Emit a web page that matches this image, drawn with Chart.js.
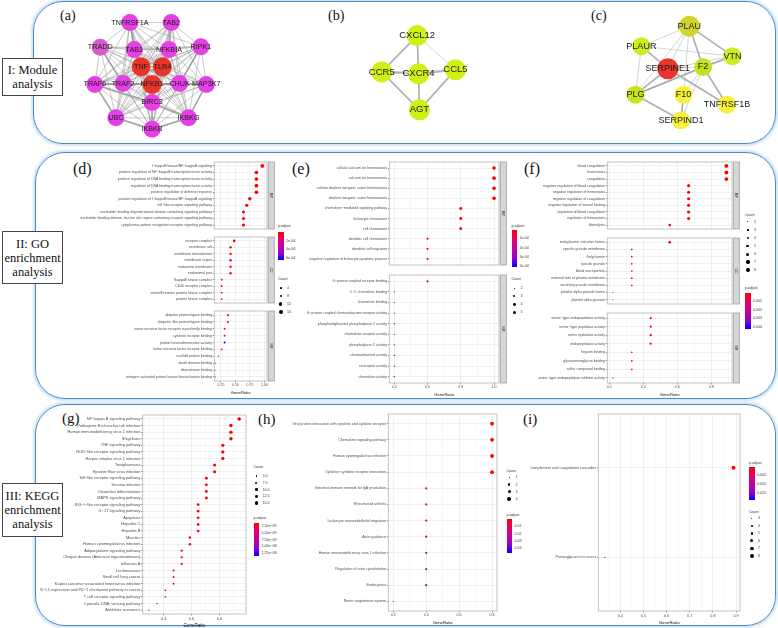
<!DOCTYPE html>
<html>
<head>
<meta charset="utf-8">
<script src="https://cdn.jsdelivr.net/npm/chart.js@4.4.0/dist/chart.umd.min.js"></script>
<style>
  body { margin: 0; background: #fff; }
  #fig { position: relative; width: 778px; height: 628px; overflow: hidden; background: #fff;
         font-family: "Liberation Sans", Arial, sans-serif; }
  .row { position: absolute; border: 1.5px solid #4a89c6; border-radius: 30px; box-sizing: border-box;
         box-shadow: 0 0 2px 1.5px rgba(170,205,238,0.55); }
  .sec { position: absolute; left: 2px; width: 61px; border: 1px solid #444; background: #fff; box-sizing: border-box;
         font-family: "Liberation Serif", "Times New Roman", serif; font-size: 12.5px; line-height: 14px;
         text-align: center; display: flex; flex-direction: column; justify-content: center; color: #111; }
  .tag { position: absolute; font-family: "Liberation Serif", "Times New Roman", serif; color: #111; line-height: 1; }
  canvas { position: absolute; }
  .lg { position: absolute; font-size: 3.6px; line-height: 4px; color: #333; white-space: nowrap; }
  .dot { position: absolute; background: #000; border-radius: 50%; }
  .bar { position: absolute; width: 5.5px;
         background: linear-gradient(to bottom, #ff0000, #e3006b, #c3009c, #9800cd, #0000ff); }
</style>
</head>
<body>
<div id="fig">
  <div class="row" style="left:33px;top:1px;width:743px;height:143px"></div>
  <div class="row" style="left:35px;top:152px;width:741px;height:247px"></div>
  <div class="row" style="left:35px;top:404px;width:741px;height:222px"></div>

  <div class="sec" style="top:58px;height:38px">I: Module<br>analysis</div>
  <div class="sec" style="top:231px;height:53px">II: GO<br>enrichment<br>analysis</div>
  <div class="sec" style="top:483px;height:54px">III: KEGG<br>enrichment<br>analysis</div>

  <div class="tag" style="left:60px;top:9px;font-size:14px">(a)</div>
  <div class="tag" style="left:328px;top:9px;font-size:14px">(b)</div>
  <div class="tag" style="left:591px;top:9px;font-size:14px">(c)</div>
  <div class="tag" style="left:73px;top:161px;font-size:16px">(d)</div>
  <div class="tag" style="left:292px;top:161px;font-size:16px">(e)</div>
  <div class="tag" style="left:524px;top:161px;font-size:16px">(f)</div>
  <div class="tag" style="left:62px;top:411px;font-size:15px">(g)</div>
  <div class="tag" style="left:258px;top:412px;font-size:15px">(h)</div>
  <div class="tag" style="left:523px;top:412px;font-size:15px">(i)</div>
</div>

<script>
/* ================= NETWORKS ================= */
// (a) NF-kB module
const aGenes  = ['TNFRSF1A','TAB2','TRADD','TAB1','NFKBIA','RIPK1','TNF','TLR4','TRAF6','TRAF2','NFKB1','CHUK','MAP3K7','BIRC3','UBC','IKBKG','IKBKB'];
const aX      = [56.7,103.3,23.3,61.7,100.7,136.7,69.3,93.3,17.3,49,81.7,112.7,142.7,81.7,41,122.7,81.7];
const aY      = [15,15,43.3,46,46,42.7,65.7,65.7,86,85,86,85,86,106.7,124.3,124.3,137.5];
const aDegree = [14,14,12,15,15,14,16,16,14,15,16,15,14,15,14,14,15];
const aLinks = {
  TNFRSF1A: 'TAB2 TRADD TAB1 NFKBIA RIPK1 TNF TLR4 TRAF6 TRAF2 NFKB1 CHUK BIRC3 UBC IKBKG IKBKB',
  TAB2:     'TAB1 NFKBIA RIPK1 TNF TLR4 TRAF6 TRAF2 NFKB1 CHUK MAP3K7 BIRC3 UBC IKBKG IKBKB',
  TRADD:    'TAB1 NFKBIA RIPK1 TNF TLR4 TRAF6 TRAF2 NFKB1 CHUK BIRC3 UBC IKBKB',
  TAB1:     'NFKBIA RIPK1 TNF TLR4 TRAF6 TRAF2 NFKB1 CHUK MAP3K7 BIRC3 UBC IKBKG IKBKB',
  NFKBIA:   'RIPK1 TNF TLR4 TRAF6 TRAF2 NFKB1 CHUK MAP3K7 BIRC3 UBC IKBKG IKBKB',
  RIPK1:    'TNF TLR4 TRAF6 TRAF2 NFKB1 CHUK MAP3K7 BIRC3 UBC IKBKG IKBKB',
  TNF:      'TLR4 TRAF6 TRAF2 NFKB1 CHUK MAP3K7 BIRC3 UBC IKBKG IKBKB',
  TLR4:     'TRAF6 TRAF2 NFKB1 CHUK MAP3K7 BIRC3 UBC IKBKG IKBKB',
  TRAF6:    'TRAF2 NFKB1 CHUK MAP3K7 BIRC3 UBC IKBKG IKBKB',
  TRAF2:    'NFKB1 CHUK MAP3K7 BIRC3 UBC IKBKG IKBKB',
  NFKB1:    'CHUK MAP3K7 BIRC3 UBC IKBKG IKBKB',
  CHUK:     'MAP3K7 BIRC3 UBC IKBKG IKBKB',
  MAP3K7:   'BIRC3 UBC IKBKG IKBKB',
  BIRC3:    'UBC IKBKG IKBKB',
  UBC:      'IKBKG IKBKB',
  IKBKG:    'IKBKB'
};
const aStrong = ['TNF-TLR4','TNF-NFKB1','TLR4-NFKB1','TNF-TAB1','TLR4-NFKBIA','TRAF2-NFKB1','NFKB1-CHUK','TRAF6-TRAF2',
                 'CHUK-MAP3K7','NFKB1-BIRC3','TRAF6-UBC','MAP3K7-IKBKG','UBC-IKBKB','IKBKG-IKBKB','TRADD-TRAF2',
                 'RIPK1-CHUK','TNFRSF1A-TAB1','TAB2-NFKBIA','TRAF6-BIRC3','BIRC3-IKBKG'];

// (b) chemokine module
const bGenes  = ['CXCL12','CCR5','CXCR4','CCL5','AGT'];
const bX      = [66.7,25,68.3,111.7,69.3];
const bY      = [29.3,71.7,74,69.3,116];
const bStrong = ['CXCL12-CXCR4','CCR5-CXCR4','CXCR4-CCL5','CXCR4-AGT','CCR5-AGT','CCL5-AGT','CXCL12-CCR5'];
const bWeak   = ['CXCL12-CCL5','CCR5-CCL5'];

// (c) coagulation module
const cGenes  = ['PLAU','PLAUR','VTN','SERPINE1','F2','PLG','F10','TNFRSF1B','SERPIND1'];
const cX      = [89.3,35,138.3,65,105,28.3,82.7,132,80];
const cY      = [18.3,41.7,53.3,68,66,98.3,98.3,110,128.3];
const cDegree = [7,5,5,8,6,6,3,3,3];
const cStrong = ['PLAU-VTN','PLAU-F2','PLAUR-SERPINE1','SERPINE1-PLG','PLG-SERPIND1','F10-SERPIND1','F2-VTN',
                 'F2-TNFRSF1B','PLG-F2','SERPINE1-TNFRSF1B'];
const cWeak   = ['PLAU-PLAUR','PLAU-SERPINE1','PLAU-PLG','PLAU-F10','PLAUR-VTN','PLAUR-PLG','SERPINE1-VTN',
                 'SERPINE1-F2','F2-F10','F2-SERPIND1','PLG-VTN'];

/* ================= GO (d) ================= */
const dBPTerms = ['I−kappaB kinase/NF−kappaB signaling','positive regulation of NF−kappaB transcription factor activity',
  'positive regulation of DNA binding transcription factor activity','regulation of DNA binding transcription factor activity',
  'positive regulation of defense response','positive regulation of I−kappaB kinase/NF−kappaB signaling',
  'toll−like receptor signaling pathway','nucleotide−binding oligomerization domain containing signaling pathway',
  'nucleotide−binding domain, leucine rich repeat containing receptor signaling pathway',
  'cytoplasmic pattern recognition receptor signaling pathway'];
const dBPRatio = [0.965,0.862,0.862,0.862,0.862,0.748,0.696,0.639,0.639,0.639];
const dBPCount = [16,15,15,15,15,13,12,11,11,11];
const dBPPadj  = [2e-7,5e-7,6e-7,1e-6,2e-6,3e-6,4e-6,6e-6,6e-6,8e-6];

const dCCTerms = ['receptor complex','membrane raft','membrane microdomain','membrane region','endosome membrane',
  'endosomal part','IkappaB kinase complex','CD40 receptor complex','serine/threonine protein kinase complex','protein kinase complex'];
const dCCRatio = [0.478,0.416,0.416,0.416,0.416,0.416,0.262,0.262,0.262,0.262];
const dCCCount = [8,7,7,7,7,7,4,4,4,4];
const dCCPadj  = [2e-5,4e-5,4e-5,4e-5,6e-5,6e-5,5e-5,5e-5,8e-5,1e-4];

const dMFTerms = ['ubiquitin protein ligase binding','ubiquitin−like protein ligase binding',
  'tumor necrosis factor receptor superfamily binding','cytokine receptor binding','protein heterodimerization activity',
  'tumor necrosis factor receptor binding','scaffold protein binding','death domain binding','thioesterase binding',
  'mitogen−activated protein kinase kinase kinase binding'];
const dMFRatio = [0.37,0.37,0.313,0.313,0.313,0.262,0.204,0.152,0.152,0.152];
const dMFCount = [6,6,5,5,5,4,3,2,2,2];
const dMFPadj  = [1e-4,1.1e-4,6e-5,1e-4,6.4e-4,5e-5,1.5e-4,3e-4,2.5e-4,3e-4];

const dXTicks = [0.25,0.5,0.75,1.0];
const dXLabels = ['0.25','0.50','0.75','1.00'];
const dCountLegend = [4,8,12,16];
const dPadjTicks = [2e-4,4e-4,6e-4];
const dPadjLabels = ['2e-04','4e-04','6e-04'];

/* ================= GO (e) ================= */
const eBPTerms = ['cellular calcium ion homeostasis','calcium ion homeostasis','cellular divalent inorganic cation homeostasis',
  'divalent inorganic cation homeostasis','chemokine−mediated signaling pathway','leukocyte chemotaxis','cell chemotaxis',
  'dendritic cell chemotaxis','dendritic cell migration','negative regulation of leukocyte apoptotic process'];
const eBPRatio = [1,1,1,1,0.8,0.8,0.8,0.6,0.6,0.6];
const eBPCount = [5,5,5,5,4,4,4,3,3,3];
const eBPPadj  = [1e-5,1e-5,1.2e-5,1.2e-5,1.5e-5,1.6e-5,2e-5,3e-5,3e-5,3.5e-5];

const eMFTerms = ['G−protein coupled receptor binding','C−C chemokine binding','chemokine binding',
  'G−protein coupled chemoattractant receptor activity','phosphatidylinositol phospholipase C activity',
  'chemokine receptor activity','phospholipase C activity','chemoattractant activity','coreceptor activity','chemokine activity'];
const eMFRatio = [0.6,0.4,0.4,0.4,0.4,0.4,0.4,0.4,0.4,0.4];
const eMFCount = [3,2,2,2,2,2,2,2,2,2];
const eMFPadj  = [2e-4,3e-4,3e-4,3e-4,3.5e-4,3.5e-4,4e-4,4e-4,4.1e-4,4.1e-4];

const eXTicks = [0.4,0.6,0.8,1.0];
const eXLabels = ['0.4','0.6','0.8','1.0'];
const eCountLegend = [2,3,4,5];
const ePadjTicks = [1e-4,2e-4,3e-4,4e-4];
const ePadjLabels = ['1e-04','2e-04','3e-04','4e-04'];

/* ================= GO (f) ================= */
const fBPTerms = ['blood coagulation','hemostasis','coagulation','negative regulation of blood coagulation',
  'negative regulation of hemostasis','negative regulation of coagulation','negative regulation of wound healing',
  'regulation of blood coagulation','regulation of hemostasis','fibrinolysis'];
const fBPRatio = [0.889,0.889,0.889,0.667,0.667,0.667,0.667,0.667,0.667,0.556];
const fBPCount = [8,8,8,6,6,6,6,6,6,5];
const fBPPadj  = [1e-5,1e-5,1e-5,5e-5,5e-5,5e-5,6e-5,8e-5,8e-5,5e-4];

const fCCTerms = ['endoplasmic reticulum lumen','specific granule membrane','Golgi lumen','specific granule',
  'blood microparticle','external side of plasma membrane','secretory granule membrane',
  'platelet alpha granule lumen','platelet alpha granule'];
const fCCRatio = [0.556,0.333,0.333,0.333,0.333,0.333,0.333,0.222,0.222];
const fCCCount = [5,3,3,3,3,3,3,2,2];
const fCCPadj  = [3e-4,1e-3,1e-3,1.2e-3,1.2e-3,1.3e-3,1.5e-3,3e-3,3.5e-3];

const fMFTerms = ['serine−type endopeptidase activity','serine−type peptidase activity','serine hydrolase activity',
  'endopeptidase activity','heparin binding','glycosaminoglycan binding','sulfur compound binding',
  'serine−type endopeptidase inhibitor activity'];
const fMFRatio = [0.444,0.444,0.444,0.444,0.333,0.333,0.333,0.222];
const fMFCount = [4,4,4,4,3,3,3,2];
const fMFPadj  = [1e-4,1e-4,1.2e-4,2e-4,5e-4,6e-4,8e-4,4.3e-3];

const fXTicks = [0.2,0.4,0.6,0.8];
const fXLabels = ['0.2','0.4','0.6','0.8'];
const fCountLegend = [2,3,4,5,6,7,8];
const fPadjTicks = [0.001,0.002,0.003,0.004];
const fPadjLabels = ['0.001','0.002','0.003','0.004'];

/* ================= KEGG (g) ================= */
const gTerms = ['NF−kappa B signaling pathway','Pathogenic Escherichia coli infection','Human immunodeficiency virus 1 infection',
  'Shigellosis','TNF signaling pathway','NOD−like receptor signaling pathway','Herpes simplex virus 1 infection',
  'Toxoplasmosis','Epstein−Barr virus infection','Toll−like receptor signaling pathway','Yersinia infection',
  'Osteoclast differentiation','MAPK signaling pathway','RIG−I−like receptor signaling pathway','IL−17 signaling pathway',
  'Apoptosis','Hepatitis C','Hepatitis B','Measles','Human cytomegalovirus infection','Adipocytokine signaling pathway',
  'Chagas disease (American trypanosomiasis)','Influenza A','Leishmaniasis','Small cell lung cancer',
  'Kaposi sarcoma−associated herpesvirus infection','PD−L1 expression and PD−1 checkpoint pathway in cancer',
  'T cell receptor signaling pathway','Cytosolic DNA−sensing pathway','Antifolate resistance'];
const gRatio = [0.941,0.882,0.882,0.882,0.824,0.824,0.824,0.765,0.765,0.706,0.706,0.706,0.706,0.647,0.647,
  0.647,0.647,0.647,0.588,0.588,0.529,0.529,0.529,0.471,0.471,0.471,0.412,0.412,0.353,0.294];
const gCount = [16,15,15,15,14,14,14,13,13,12,12,12,12,11,11,11,11,11,10,10,9,9,9,8,8,8,7,7,6,5];
const gPadj  = [1.5e-9,1.6e-9,1.6e-9,1.7e-9,1.8e-9,1.8e-9,1.9e-9,2e-9,2e-9,2.1e-9,2.2e-9,2.2e-9,2.3e-9,2.4e-9,
  2.4e-9,2.5e-9,2.5e-9,2.6e-9,2.8e-9,3e-9,4e-9,4.2e-9,4.4e-9,5.5e-9,5.6e-9,5.8e-9,4.8e-9,5e-9,8e-9,1.35e-8];
const gXTicks = [0.4,0.6,0.8];
const gXLabels = ['0.4','0.6','0.8'];
const gCountLegend = [5,7.5,10,12.5,15];
const gCountLabels = ['5.0','7.5','10.0','12.5','15.0'];
const gPadjTicks = [2.5e-9,5e-9,7.5e-9,1e-8,1.25e-8];
const gPadjLabels = ['2.50e−09','5.00e−09','7.50e−09','1.00e−08','1.25e−08'];

/* ================= KEGG (h) ================= */
const hTerms = ['Viral protein interaction with cytokine and cytokine receptor','Chemokine signaling pathway',
  'Human cytomegalovirus infection','Cytokine−cytokine receptor interaction','Intestinal immune network for IgA production',
  'Rheumatoid arthritis','Leukocyte transendothelial migration','Axon guidance','Human immunodeficiency virus 1 infection',
  'Regulation of actin cytoskeleton','Endocytosis','Renin−angiotensin system'];
const hRatio = [0.8,0.8,0.8,0.8,0.4,0.4,0.4,0.4,0.4,0.4,0.4,0.2];
const hCount = [4,4,4,4,2,2,2,2,2,2,2,1];
const hPadj  = [5e-4,5e-4,5e-4,1e-3,0.015,0.015,0.018,0.02,0.025,0.028,0.03,0.046];
const hXTicks = [0.2,0.4,0.6,0.8];
const hXLabels = ['0.2','0.4','0.6','0.8'];
const hCountLegend = [1,2,3,4];
const hPadjTicks = [0.01,0.02,0.03,0.04];
const hPadjLabels = ['0.01','0.02','0.03','0.04'];

/* ================= KEGG (i) ================= */
const iTerms = ['Complement and coagulation cascades','Proteoglycans in cancer'];
const iRatio = [0.889,0.333];
const iCount = [8,3];
const iPadj  = [1e-4,0.0188];
const iXTicks = [0.4,0.5,0.6,0.7,0.8,0.9];
const iXLabels = ['0.4','0.5','0.6','0.7','0.8','0.9'];
const iCountLegend = [3,4,5,6,7,8];
const iPadjTicks = [0.005,0.010,0.015];
const iPadjLabels = ['0.005','0.010','0.015'];

/* ================= HELPERS ================= */
Chart.defaults.font.family = '"Liberation Sans", Arial, sans-serif';
Chart.defaults.animation = false;
const fig = document.getElementById('fig');

function canvasAt(l, t, w, h) {
  const c = document.createElement('canvas');
  c.width = Math.round(w); c.height = Math.round(h);
  c.style.left = l + 'px'; c.style.top = t + 'px';
  fig.appendChild(c);
  return c;
}

const STOPS = ['#ff0000','#e3006b','#c3009c','#9800cd','#0000ff'];
const rgbOf = h => [1,3,5].map(i => parseInt(h.substr(i,2),16));
function padjColor(p, lo, hi) {
  const t = Math.min(1, Math.max(0, (p - lo) / (hi - lo)));
  const s = t * (STOPS.length - 1), i = Math.min(Math.floor(s), STOPS.length - 2), f = s - i;
  const a = rgbOf(STOPS[i]), b = rgbOf(STOPS[i+1]);
  return 'rgb(' + a.map((v,k) => Math.round(v + (b[k]-v)*f)).join(',') + ')';
}
const sizeFn = (lo, hi, r0, r1) => c => r0 + (Math.sqrt(c) - Math.sqrt(lo)) / (Math.sqrt(hi) - Math.sqrt(lo)) * (r1 - r0);

// panel frame + facet strip
const framePlugin = {
  id: 'frame',
  afterDraw(chart, args, opts) {
    const a = chart.chartArea, ctx = chart.ctx;
    ctx.save();
    ctx.strokeStyle = '#b5b5b5'; ctx.lineWidth = 0.8;
    ctx.strokeRect(a.left, a.top, a.right - a.left, a.bottom - a.top);
    if (opts.text) {
      const x0 = a.right + 1.3, w = 6;
      ctx.fillStyle = '#d6d6d6'; ctx.fillRect(x0, a.top, w, a.bottom - a.top);
      ctx.strokeStyle = '#a0a0a0'; ctx.strokeRect(x0, a.top, w, a.bottom - a.top);
      ctx.translate(x0 + w/2, (a.top + a.bottom) / 2); ctx.rotate(Math.PI / 2);
      ctx.fillStyle = '#1a1a1a'; ctx.font = '3.6px "Liberation Sans", Arial';
      ctx.textAlign = 'center'; ctx.textBaseline = 'middle';
      ctx.fillText(opts.text, 0, 0);
    }
    ctx.restore();
  }
};

function dotChart(P, F, withAxis) {
  const n = F.terms.length, axisH = withAxis ? 14 : 0;
  const right = P.plotRight + (F.strip ? 8 : 1);
  const cv = canvasAt(P.left, F.top - 1, right - P.left, F.bottom - F.top + 2 + axisH);
  const step = P.xTicks[1] - P.xTicks[0];
  const minor = [P.xTicks[0] - step/2, ...P.xTicks.slice(1).map((v,i) => (v + P.xTicks[i]) / 2),
                 P.xTicks[P.xTicks.length-1] + step/2].filter(v => v > P.xMin && v < P.xMax);
  const majIdx = v => P.xTicks.findIndex(m => Math.abs(m - v) < 1e-9);
  const rad = sizeFn(P.cnt[0], P.cnt[1], P.rad[0], P.rad[1]);
  new Chart(cv, {
    type: 'scatter',
    data: { datasets: [{
      data: F.terms.map((t,i) => ({ x: F.ratio[i], y: i + 1 })),
      pointRadius: F.count.map(rad),
      pointBackgroundColor: F.padj.map(p => padjColor(p, P.p[0], P.p[1])),
      pointBorderWidth: 0
    }]},
    options: {
      responsive: false, events: [],
      layout: { padding: { top: 1, bottom: 1, left: 0, right: F.strip ? 8 : 1 } },
      plugins: { legend: { display: false }, tooltip: { enabled: false }, frame: { text: F.strip } },
      scales: {
        x: {
          type: 'linear', min: P.xMin, max: P.xMax,
          afterBuildTicks: s => { s.ticks = [...P.xTicks, ...minor].map(v => ({ value: v })); },
          afterFit: s => { s.height = axisH; },
          border: { display: false },
          grid: { lineWidth: 0.6, drawTicks: withAxis, tickLength: 1.5,
                  color: c => majIdx(c.tick.value) >= 0 ? '#e6e6e6' : '#f3f3f3',
                  tickColor: c => majIdx(c.tick.value) >= 0 ? '#444' : 'rgba(0,0,0,0)' },
          ticks: { display: withAxis, autoSkip: false, maxRotation: 0, padding: 0.8, color: '#4d4d4d',
                   font: { size: P.font }, callback: v => { const k = majIdx(v); return k >= 0 ? P.xLabels[k] : ''; } },
          title: { display: withAxis, text: 'GeneRatio', color: '#111', font: { size: P.font + 0.6 }, padding: 0 }
        },
        y: {
          type: 'linear', reverse: true, min: 0.4, max: n + 0.6,
          afterBuildTicks: s => { s.ticks = F.terms.map((t,i) => ({ value: i + 1 })); },
          afterFit: s => { s.width = P.plotLeft - P.left; },
          border: { display: false },
          grid: { lineWidth: 0.6, color: '#e6e6e6', tickLength: 1.5, tickColor: '#444' },
          ticks: { autoSkip: false, padding: 0.8, color: '#4d4d4d', font: { size: P.font },
                   callback: v => F.terms[Math.round(v) - 1] }
        }
      }
    },
    plugins: [framePlugin]
  });
}

function countLegend(x, yTitle, y0, stepY, vals, labs, P) {
  const rad = sizeFn(P.cnt[0], P.cnt[1], P.rad[0], P.rad[1]);
  let h = `<div class="lg" style="left:${x}px;top:${yTitle-2}px">Count</div>`;
  vals.forEach((v,i) => {
    const r = rad(v), y = y0 + i * stepY;
    h += `<div class="dot" style="left:${x+2.8-r}px;top:${y-r}px;width:${2*r}px;height:${2*r}px"></div>` +
         `<div class="lg" style="left:${x+9}px;top:${y-2}px">${labs[i]}</div>`;
  });
  fig.insertAdjacentHTML('beforeend', h);
}
function padjLegend(x, yTitle, barTop, barH, vals, labs, P) {
  let h = `<div class="lg" style="left:${x}px;top:${yTitle-2}px">p.adjust</div>` +
          `<div class="bar" style="left:${x}px;top:${barTop}px;height:${barH}px"></div>`;
  vals.forEach((v,i) => {
    const y = barTop + (v - P.p[0]) / (P.p[1] - P.p[0]) * barH;
    h += `<div class="lg" style="left:${x+8}px;top:${y-2}px">${labs[i]}</div>`;
  });
  fig.insertAdjacentHTML('beforeend', h);
}

/* ================= NETWORK DRAWING ================= */
const labelPlugin = {
  id: 'nodeLabels',
  afterDatasetsDraw(chart, args, o) {
    const ctx = chart.ctx, xs = chart.scales.x, ys = chart.scales.y;
    ctx.save();
    ctx.font = o.size + 'px "Liberation Sans", Arial'; ctx.fillStyle = '#1a1a1a';
    ctx.textAlign = 'center'; ctx.textBaseline = 'middle';
    o.names.forEach((nm,i) => ctx.fillText(nm, xs.getPixelForValue(o.xs[i]), ys.getPixelForValue(o.ys[i])));
    ctx.restore();
  }
};

function network(N) {
  const cv = canvasAt(N.left, N.top, N.w, N.h);
  const pos = {};
  N.names.forEach((nm,i) => { pos[nm] = { x: N.xs[i], y: N.ys[i] }; });
  const edgeData = list => list.flatMap(e => {
    const [a, b] = e.split('-');
    return [{ ...pos[a] }, { ...pos[b] }, { x: null, y: null }];
  });
  new Chart(cv, {
    type: 'scatter',
    data: { datasets: [
      { data: N.names.map((nm,i) => ({ x: N.xs[i], y: N.ys[i] })),
        pointRadius: N.names.map((nm,i) => N.radius(i)),
        pointBackgroundColor: N.names.map((nm,i) => N.color(i)), pointBorderWidth: 0 },
      { data: edgeData(N.strong), showLine: true, spanGaps: false, pointRadius: 0,
        borderColor: 'rgba(150,150,150,0.75)', borderWidth: 1.7 },
      { data: edgeData(N.weak), showLine: true, spanGaps: false, pointRadius: 0,
        borderColor: N.weakColor || 'rgba(160,160,160,0.55)', borderWidth: N.weakWidth || 0.8 }
    ]},
    options: {
      responsive: false, events: [],
      layout: { padding: 0 },
      plugins: { legend: { display: false }, tooltip: { enabled: false },
                 nodeLabels: { names: N.names, xs: N.xs, ys: N.ys, size: N.font } },
      scales: {
        x: { type: 'linear', display: false, min: 0, max: N.w },
        y: { type: 'linear', display: false, min: 0, max: N.h, reverse: true }
      }
    },
    plugins: [labelPlugin]
  });
}

const aAll = Object.entries(aLinks).flatMap(([k, v]) => v.split(' ').map(o => k + '-' + o));
network({ left: 70, top: 0, w: 170, h: 148, names: aGenes, xs: aX, ys: aY, font: 7.2,
  strong: aStrong, weak: aAll, weakColor: 'rgba(155,155,155,0.6)', weakWidth: 0.9,
  radius: i => aDegree[i] >= 16 ? 9.5 : 8.5,
  color: i => aDegree[i] >= 16 ? '#e8352b' : (aDegree[i] <= 12 ? '#d95ccd' : '#e63fe6') });
network({ left: 350, top: 0, w: 140, h: 146, names: bGenes, xs: bX, ys: bY, font: 9.5,
  strong: bStrong, weak: bWeak, radius: () => 10.5, color: () => '#d0f014' });
network({ left: 600, top: 0, w: 178, h: 146, names: cGenes, xs: cX, ys: cY, font: 9,
  strong: cStrong, weak: cWeak,
  radius: i => cDegree[i] >= 7 ? 10.5 : 9,
  color: i => ({ 8: '#e8342c', 7: '#d0d52c', 6: '#c9e21e', 5: '#cbee1e' })[cDegree[i]] || '#f6f23c' });

/* ================= DOT PLOTS ================= */
const D = { left: 60, plotLeft: 214.3, plotRight: 267.3, xMin: 0.135, xMax: 1.045, xTicks: dXTicks, xLabels: dXLabels,
            font: 3.5, cnt: [2,16], rad: [0.55,1.9], p: [1e-6,6.4e-4] };
dotChart(D, { strip: 'BP', top: 159.3, bottom: 232.3, terms: dBPTerms, ratio: dBPRatio, count: dBPCount, padj: dBPPadj }, false);
dotChart(D, { strip: 'CC', top: 234.3, bottom: 306.3, terms: dCCTerms, ratio: dCCRatio, count: dCCCount, padj: dCCPadj }, false);
dotChart(D, { strip: 'MF', top: 308.3, bottom: 381, terms: dMFTerms, ratio: dMFRatio, count: dMFCount, padj: dMFPadj }, true);
padjLegend(278, 226, 231.7, 28.3, dPadjTicks, dPadjLabels, D);
countLegend(278, 279, 287.7, 8.2, dCountLegend, dCountLegend, D);

const E = { left: 290, plotLeft: 389.3, plotRight: 499.3, xMin: 0.37, xMax: 1.03, xTicks: eXTicks, xLabels: eXLabels,
            font: 3.5, cnt: [2,5], rad: [0.6,1.8], p: [1e-5,4.1e-4] };
dotChart(E, { strip: 'BP', top: 159.3, bottom: 268.5, terms: eBPTerms, ratio: eBPRatio, count: eBPCount, padj: eBPPadj }, false);
dotChart(E, { strip: 'MF', top: 271.7, bottom: 382.3, terms: eMFTerms, ratio: eMFRatio, count: eMFCount, padj: eMFPadj }, true);
padjLegend(511.5, 226, 230, 37.3, ePadjTicks, ePadjLabels, E);
countLegend(511.5, 279.3, 288.3, 8, eCountLegend, eCountLegend, E);

const Fp = { left: 520, plotLeft: 607.3, plotRight: 732.3, xMin: 0.189, xMax: 0.922, xTicks: fXTicks, xLabels: fXLabels,
             font: 3.5, cnt: [2,8], rad: [0.55,1.9], p: [1e-5,4.3e-3] };
dotChart(Fp, { strip: 'BP', top: 159.3, bottom: 232, terms: fBPTerms, ratio: fBPRatio, count: fBPCount, padj: fBPPadj }, false);
dotChart(Fp, { strip: 'CC', top: 234.5, bottom: 306.3, terms: fCCTerms, ratio: fCCRatio, count: fCCCount, padj: fCCPadj }, false);
dotChart(Fp, { strip: 'MF', top: 309.5, bottom: 382.3, terms: fMFTerms, ratio: fMFRatio, count: fMFCount, padj: fMFPadj }, true);
countLegend(745, 215, 221.7, 8.1, fCountLegend, fCountLegend, Fp);
padjLegend(745, 288.3, 292.7, 36.6, fPadjTicks, fPadjLabels, Fp);

const G = { left: 40, plotLeft: 142.7, plotRight: 249.3, xMin: 0.25, xMax: 0.99, xTicks: gXTicks, xLabels: gXLabels,
            font: 3.9, cnt: [5,16], rad: [0.6,1.8], p: [1.5e-9,1.35e-8] };
dotChart(G, { strip: null, top: 411.7, bottom: 613.3, terms: gTerms, ratio: gRatio, count: gCount, padj: gPadj }, true);
countLegend(253.5, 467, 476, 6.8, gCountLegend, gCountLabels, G);
padjLegend(253.5, 517.5, 523.3, 32.7, gPadjTicks, gPadjLabels, G);

const H = { left: 280, plotLeft: 388.3, plotRight: 500, xMin: 0.17, xMax: 0.83, xTicks: hXTicks, xLabels: hXLabels,
            font: 3.6, cnt: [1,4], rad: [0.55,1.9], p: [1e-4,0.0465] };
dotChart(H, { strip: null, top: 410.7, bottom: 610.7, terms: hTerms, ratio: hRatio, count: hCount, padj: hPadj }, true);
countLegend(506.5, 470.7, 477.3, 7.2, hCountLegend, hCountLegend, H);
padjLegend(506.5, 515, 519, 34, hPadjTicks, hPadjLabels, H);

const I = { left: 530, plotLeft: 598.3, plotRight: 743.3, xMin: 0.305, xMax: 0.917, xTicks: iXTicks, xLabels: iXLabels,
            font: 3.8, cnt: [3,8], rad: [0.6,2.0], p: [1e-4,0.0188] };
dotChart(I, { strip: null, top: 410.7, bottom: 610.7, terms: iTerms, ratio: iRatio, count: iCount, padj: iPadj }, true);
padjLegend(749, 463.3, 466.7, 33.3, iPadjTicks, iPadjLabels, I);
countLegend(749, 511.7, 518.3, 7.5, iCountLegend, iCountLegend, I);
</script>
</body>
</html>
